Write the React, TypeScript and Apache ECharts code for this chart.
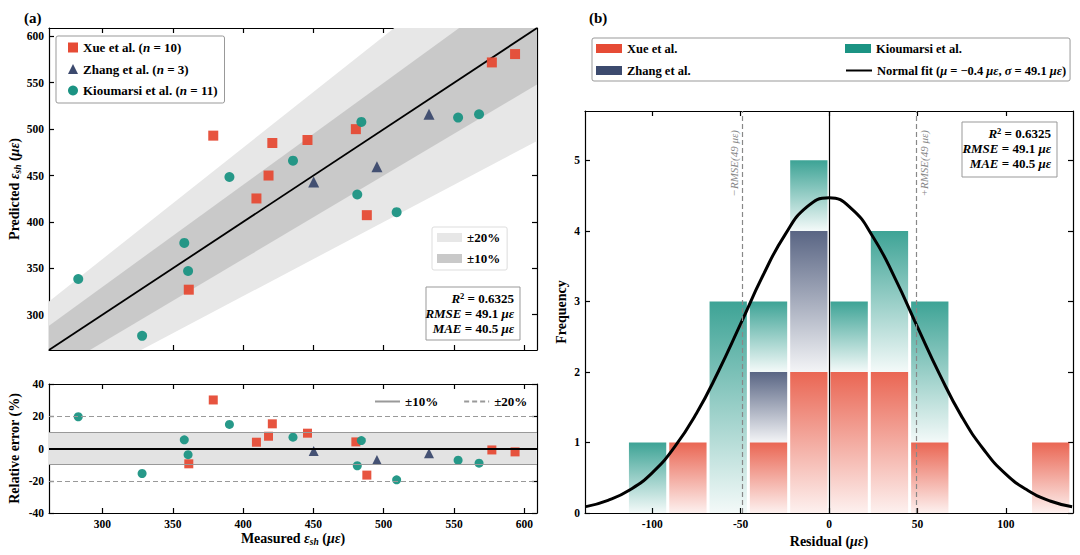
import React, { useEffect, useRef } from "react";
import * as echarts from "echarts";

// ---- panel (a): measured vs predicted shrinkage strain (µε) ----
const xueMeasured = [378.8, 420.8, 418.1, 409.5, 445.8, 480.2, 488.0, 361.4, 576.9, 593.4];
const xuePredicted = [493.0, 485.1, 450.0, 425.3, 488.3, 500.0, 407.3, 327.0, 571.9, 580.9];
const zhangMeasured = [450.2, 495.2, 532.2];
const zhangPredicted = [443.0, 459.5, 516.1];
const kioMeasured = [282.8, 328.2, 358.2, 360.9, 390.3, 435.5, 481.2, 484.1, 509.2, 552.9, 567.8];
const kioPredicted = [338.5, 277.3, 377.4, 347.1, 448.4, 466.0, 429.6, 507.8, 410.5, 512.5, 516.1];

// relative error (%) from the lower panel
const xueError = [30.1, 15.3, 7.6, 3.9, 9.5, 4.1, -16.5, -9.5, -0.9, -2.1];
const zhangError = [-1.6, -7.2, -3.0];
const kioError = [19.7, -15.5, 5.4, -3.8, 14.9, 7.0, -10.7, 4.9, -19.4, -7.3, -9.1];

const strainRange = [262, 609];
const strainTicks = [300, 350, 400, 450, 500, 550, 600];
const errorTicks = [-40, -20, 0, 20, 40];
const bandRatios = [0.2, 0.1];
const errorBands = [10, 20];

// ---- panel (b): residual histogram ----
const binEdges = [-114.0, -91.2, -68.4, -45.6, -22.8, 0.0, 22.8, 45.6, 68.4, 91.2, 114.0, 136.8];
const xueCounts = [0, 1, 0, 1, 2, 2, 2, 1, 0, 0, 1];
const zhangCounts = [0, 0, 0, 1, 2, 0, 0, 0, 0, 0, 0];
const kioCounts = [1, 0, 3, 1, 1, 1, 2, 2, 0, 0, 0];
const fitX = [-137.5, -125, -112.5, -100, -87.5, -75, -62.5, -50, -37.5, -25, -12.5, 0,
  12.5, 25, 37.5, 50, 62.5, 75, 87.5, 100, 112.5, 125, 137.5];
const fitY = [0.09, 0.18, 0.33, 0.57, 0.93, 1.41, 2.01, 2.68, 3.36, 3.94, 4.34, 4.47,
  4.32, 3.91, 3.32, 2.64, 1.97, 1.37, 0.9, 0.55, 0.32, 0.17, 0.09];
const residualRange = [-138, 138];
const residualTicks = [-100, -50, 0, 50, 100];
const freqTicks = [0, 1, 2, 3, 4, 5];
const freqMax = 5.7;
const rmse = 49.1;

const statR2 = "0.6325";
const statRmse = "49.1";
const statMae = "40.5";

const FONT = '"Liberation Serif", "Times New Roman", serif';
const RED = "#E64B35";
const NAVY = "#3C4A6E";
const TEAL = "#1B9383";

const XUE = "Xue et al. (n = 10)";
const ZHANG = "Zhang et al. (n = 3)";
const KIO = "Kioumarsi et al. (n = 11)";

const pairs = (xs: number[], ys: number[]) => xs.map((x, i) => [x, ys[i]]);

const stackSegments = (counts: number[], below: number[]) =>
  counts.flatMap((c, i) =>
    c > 0 ? [[binEdges[i], binEdges[i + 1], below[i], below[i] + c]] : []
  );

const bold = { fontFamily: FONT, fontWeight: "bold" as const, color: "#000" };

const axis = (
  gridIndex: number,
  position: string,
  range: number[],
  ticks: number[],
  labels: boolean,
  extra: any = {}
) => ({
  type: "value",
  gridIndex,
  position,
  min: range[0],
  max: range[1],
  axisLine: { show: true, onZero: false, lineStyle: { color: "#000", width: 1.2 } },
  axisTick: {
    show: true,
    inside: true,
    length: 5,
    customValues: ticks,
    lineStyle: { color: "#000", width: 1.2 },
  },
  axisLabel: { show: labels, customValues: ticks, margin: 5, fontSize: 11.5, ...bold },
  splitLine: { show: false },
  ...extra,
});

const nameRich = {
  b: { fontSize: 14, ...bold, lineHeight: 17, verticalAlign: "middle" },
  i: { fontSize: 14, ...bold, fontStyle: "italic", lineHeight: 17, verticalAlign: "middle" },
  s: { fontSize: 9.5, ...bold, fontStyle: "italic", lineHeight: 9, verticalAlign: "bottom" },
};

const renderBand = (ratio: number, color: string) => (params: any, api: any) => {
  const x0 = api.value(0);
  const x1 = api.value(1);
  const cs = params.coordSys;
  return {
    type: "polygon",
    shape: {
      points: [
        api.coord([x0, x0 * (1 - ratio)]),
        api.coord([x1, x1 * (1 - ratio)]),
        api.coord([x1, x1 * (1 + ratio)]),
        api.coord([x0, x0 * (1 + ratio)]),
      ],
    },
    style: { fill: color },
    clipPath: { type: "rect", shape: { x: cs.x, y: cs.y, width: cs.width, height: cs.height } },
  };
};

const renderBar = (top: string, bottom: string) => (_params: any, api: any) => {
  const a = api.coord([api.value(0), api.value(3)]);
  const b = api.coord([api.value(1), api.value(2)]);
  return {
    type: "rect",
    shape: { x: a[0] + 1.5, y: a[1], width: b[0] - a[0] - 3, height: b[1] - a[1] },
    style: {
      fill: {
        type: "linear",
        x: 0,
        y: 0,
        x2: 0,
        y2: 1,
        colorStops: [
          { offset: 0, color: top },
          { offset: 1, color: bottom },
        ],
      },
    },
  };
};

const statRich = {
  b: { fontSize: 13, ...bold, lineHeight: 15 },
  i: { fontSize: 13, ...bold, fontStyle: "italic", lineHeight: 15 },
  sup: { fontSize: 8.5, ...bold, lineHeight: 8, verticalAlign: "top" },
};

const statsBox = (x: number, y: number, w: number, h: number) => ({
  type: "group",
  children: [
    {
      type: "rect",
      shape: { x, y, width: w, height: h },
      style: { fill: "#fff", stroke: "#999", lineWidth: 1 },
    },
    {
      type: "text",
      x: x + w - 6,
      y: y + 4,
      style: {
        text: [
          `{i|R}{sup|2}{b| = ${statR2}}`,
          `{i|RMSE}{b| = ${statRmse} }{i|με}`,
          `{i|MAE}{b| = ${statMae} }{i|με}`,
        ].join("\n"),
        rich: statRich,
        align: "right",
        verticalAlign: "top",
      },
    },
  ],
});

const App: React.FC = () => {
  const chartRef = useRef<HTMLDivElement>(null);

  useEffect(() => {
    document.body.style.margin = "0";
    const dom = chartRef.current;
    if (!dom) return;
    const chart = echarts.init(dom, null, { renderer: "svg" });

    const zhangBase = xueCounts;
    const kioBase = xueCounts.map((c, i) => c + zhangCounts[i]);

    const option: any = {
      animation: false,
      backgroundColor: "#fff",
      title: [
        { text: "(a)", left: 19, top: 5, textStyle: { fontSize: 15, ...bold } },
        { text: "(b)", left: 584, top: 5, textStyle: { fontSize: 15, ...bold } },
      ],
      grid: [
        { left: 49, top: 28, width: 488, height: 322 },
        { left: 49, top: 384, width: 488, height: 129 },
        { left: 585, top: 111, width: 488, height: 402 },
      ],
      xAxis: [
        axis(0, "bottom", strainRange, strainTicks, false),
        axis(0, "top", strainRange, strainTicks, false),
        axis(1, "bottom", strainRange, strainTicks, true, {
          name: "{b|Measured }{i|ε}{s|sh}{b| (}{i|με}{b|)}",
          nameLocation: "middle",
          nameGap: 17,
          nameTextStyle: { rich: nameRich },
        }),
        axis(1, "top", strainRange, strainTicks, false),
        axis(2, "bottom", residualRange, residualTicks, true, {
          name: "{b|Residual (}{i|με}{b|)}",
          nameLocation: "middle",
          nameGap: 16,
          nameTextStyle: { rich: nameRich },
        }),
        axis(2, "top", residualRange, residualTicks, false),
      ],
      yAxis: [
        axis(0, "left", strainRange, strainTicks, true, {
          name: "{b|Predicted }{i|ε}{s|sh}{b| (}{i|με}{b|)}",
          nameLocation: "middle",
          nameGap: 26,
          nameTextStyle: { rich: nameRich },
        }),
        axis(0, "right", strainRange, strainTicks, false),
        axis(1, "left", [-40, 40], errorTicks, true, {
          name: "{b|Relative error (%)}",
          nameLocation: "middle",
          nameGap: 26,
          nameTextStyle: { rich: nameRich },
        }),
        axis(1, "right", [-40, 40], errorTicks, false),
        axis(2, "left", [0, freqMax], freqTicks, true, {
          name: "{b|Frequency}",
          nameLocation: "middle",
          nameGap: 15,
          nameTextStyle: { rich: nameRich },
        }),
        axis(2, "right", [0, freqMax], freqTicks, false),
      ],
      legend: [
        {
          data: [XUE, ZHANG, KIO],
          orient: "vertical",
          left: 56,
          top: 36,
          padding: [5, 7, 6, 12],
          itemGap: 8.5,
          itemWidth: 10,
          itemHeight: 10,
          itemTextGap: 17,
          borderColor: "#999",
          borderWidth: 1,
          borderRadius: 2,
          backgroundColor: "#fff",
          selectedMode: false,
          itemStyle: { opacity: 1 },
          formatter: (name: string) => {
            const m = name.match(/^(.*)\(n = (\d+)\)$/);
            return m ? `${m[1]}({i|n} = ${m[2]})` : name;
          },
          textStyle: {
            fontSize: 13,
            lineHeight: 10,
            ...bold,
            rich: { i: { fontSize: 13, lineHeight: 10, ...bold, fontStyle: "italic" } },
          },
        },
        {
          data: ["±20%", "±10%"],
          orient: "vertical",
          left: 432,
          top: 227,
          padding: [4, 7, 5, 5],
          itemGap: 8,
          itemWidth: 25,
          itemHeight: 9,
          itemTextGap: 11,
          icon: "rect",
          borderColor: "#ddd",
          borderWidth: 1,
          borderRadius: 2,
          backgroundColor: "#fff",
          selectedMode: false,
          textStyle: { fontSize: 13, lineHeight: 9, ...bold },
        },
        {
          data: [
            { name: "err10", itemStyle: { opacity: 0 } },
            { name: "err20", itemStyle: { opacity: 0 } },
          ],
          orient: "horizontal",
          left: 374,
          top: 395,
          padding: 0,
          itemGap: 25,
          itemWidth: 25,
          itemHeight: 10,
          itemTextGap: 11,
          selectedMode: false,
          formatter: (name: string) => (name === "err10" ? "±10%" : "±20%"),
          textStyle: { fontSize: 13, ...bold },
        },
        {
          data: [
            { name: "Xue et al.", icon: "rect", textStyle: { width: 209 } },
            { name: "Kioumarsi et al.", icon: "rect" },
            { name: "Zhang et al.", icon: "rect", textStyle: { width: 209 } },
            { name: "Normal fit", itemStyle: { opacity: 0 } },
          ],
          orient: "horizontal",
          left: 592,
          top: 38,
          width: 480,
          padding: [4, 4, 4, 4],
          itemGap: 9,
          itemWidth: 26,
          itemHeight: 9,
          itemTextGap: 9,
          borderColor: "#999",
          borderWidth: 1,
          borderRadius: 2,
          selectedMode: false,
          formatter: (name: string) =>
            name === "Normal fit"
              ? "Normal fit ({i|μ} = −0.4 {i|με}, {i|σ} = 49.1 {i|με})"
              : name,
          textStyle: {
            fontSize: 12.5,
            lineHeight: 9,
            ...bold,
            rich: { i: { fontSize: 12.5, lineHeight: 9, ...bold, fontStyle: "italic" } },
          },
        },
      ],
      series: [
        // panel (a) upper
        {
          name: "±20%",
          type: "custom",
          xAxisIndex: 0,
          yAxisIndex: 0,
          itemStyle: { color: "#e7e7e7" },
          renderItem: renderBand(bandRatios[0], "#e7e7e7"),
          data: [strainRange],
          encode: { x: [0, 1], y: [0, 1] },
          silent: true,
          z: 1,
        },
        {
          name: "±10%",
          type: "custom",
          xAxisIndex: 0,
          yAxisIndex: 0,
          itemStyle: { color: "#c9c9c9" },
          renderItem: renderBand(bandRatios[1], "#c9c9c9"),
          data: [strainRange],
          encode: { x: [0, 1], y: [0, 1] },
          silent: true,
          z: 1,
        },
        {
          name: "1:1",
          type: "line",
          xAxisIndex: 0,
          yAxisIndex: 0,
          data: [
            [strainRange[0], strainRange[0]],
            [strainRange[1], strainRange[1]],
          ],
          symbol: "none",
          lineStyle: { color: "#000", width: 1.8 },
          silent: true,
          z: 2,
        },
        {
          name: XUE,
          type: "scatter",
          xAxisIndex: 0,
          yAxisIndex: 0,
          symbol: "rect",
          symbolSize: 10,
          itemStyle: { color: RED, opacity: 0.95 },
          data: pairs(xueMeasured, xuePredicted),
          z: 3,
        },
        {
          name: ZHANG,
          type: "scatter",
          xAxisIndex: 0,
          yAxisIndex: 0,
          symbol: "triangle",
          symbolSize: 11,
          itemStyle: { color: NAVY, opacity: 0.95 },
          data: pairs(zhangMeasured, zhangPredicted),
          z: 3,
        },
        {
          name: KIO,
          type: "scatter",
          xAxisIndex: 0,
          yAxisIndex: 0,
          symbol: "circle",
          symbolSize: 10,
          itemStyle: { color: TEAL, opacity: 0.95 },
          data: pairs(kioMeasured, kioPredicted),
          z: 3,
        },
        // panel (a) lower
        {
          name: "err10",
          type: "line",
          xAxisIndex: 2,
          yAxisIndex: 2,
          data: [],
          symbol: "none",
          itemStyle: { color: "#999" },
          lineStyle: { color: "#999", width: 1.2 },
          markArea: {
            silent: true,
            itemStyle: { color: "#e3e3e3" },
            data: [[{ yAxis: -errorBands[0] }, { yAxis: errorBands[0] }]],
          },
          markLine: {
            silent: true,
            symbol: "none",
            label: { show: false },
            lineStyle: { color: "#999", width: 1.2, type: "solid" },
            data: [
              { yAxis: -errorBands[0] },
              { yAxis: errorBands[0] },
              { yAxis: 0, lineStyle: { color: "#000", width: 2, type: "solid" } },
            ],
          },
          z: 1,
        },
        {
          name: "err20",
          type: "line",
          xAxisIndex: 2,
          yAxisIndex: 2,
          data: [],
          symbol: "none",
          itemStyle: { color: "#999" },
          lineStyle: { color: "#999", width: 1.2, type: [5, 3] },
          markLine: {
            silent: true,
            symbol: "none",
            label: { show: false },
            lineStyle: { color: "#999", width: 1.2, type: [5, 3] },
            data: [{ yAxis: -errorBands[1] }, { yAxis: errorBands[1] }],
          },
          z: 1,
        },
        {
          name: XUE,
          type: "scatter",
          xAxisIndex: 2,
          yAxisIndex: 2,
          symbol: "rect",
          symbolSize: 9,
          itemStyle: { color: RED, opacity: 0.95 },
          data: pairs(xueMeasured, xueError),
          z: 3,
        },
        {
          name: ZHANG,
          type: "scatter",
          xAxisIndex: 2,
          yAxisIndex: 2,
          symbol: "triangle",
          symbolSize: 10,
          itemStyle: { color: NAVY, opacity: 0.95 },
          data: pairs(zhangMeasured, zhangError),
          z: 3,
        },
        {
          name: KIO,
          type: "scatter",
          xAxisIndex: 2,
          yAxisIndex: 2,
          symbol: "circle",
          symbolSize: 9,
          itemStyle: { color: TEAL, opacity: 0.95 },
          data: pairs(kioMeasured, kioError),
          z: 3,
        },
        // panel (b)
        {
          name: "Xue et al.",
          type: "custom",
          xAxisIndex: 4,
          yAxisIndex: 4,
          itemStyle: { color: RED },
          renderItem: renderBar("rgba(230,75,53,0.85)", "rgba(230,75,53,0.08)"),
          encode: { x: [0, 1], y: [2, 3] },
          data: stackSegments(xueCounts, xueCounts.map(() => 0)),
          silent: true,
          z: 1,
        },
        {
          name: "Zhang et al.",
          type: "custom",
          xAxisIndex: 4,
          yAxisIndex: 4,
          itemStyle: { color: NAVY },
          renderItem: renderBar("rgba(60,74,110,0.85)", "rgba(60,74,110,0.06)"),
          encode: { x: [0, 1], y: [2, 3] },
          data: stackSegments(zhangCounts, zhangBase),
          silent: true,
          z: 1,
        },
        {
          name: "Kioumarsi et al.",
          type: "custom",
          xAxisIndex: 4,
          yAxisIndex: 4,
          itemStyle: { color: TEAL },
          renderItem: renderBar("rgba(27,147,131,0.85)", "rgba(27,147,131,0.05)"),
          encode: { x: [0, 1], y: [2, 3] },
          data: stackSegments(kioCounts, kioBase),
          silent: true,
          z: 1,
        },
        {
          name: "Normal fit",
          type: "line",
          xAxisIndex: 4,
          yAxisIndex: 4,
          data: pairs(fitX, fitY),
          smooth: true,
          symbol: "none",
          itemStyle: { color: "#000" },
          lineStyle: { color: "#000", width: 3 },
          markLine: {
            silent: true,
            symbol: "none",
            lineStyle: { color: "#888", width: 1.2, type: [5, 3] },
            label: {
              show: true,
              color: "#888",
              fontFamily: FONT,
              fontStyle: "italic",
              fontSize: 11,
              distance: [19, 3],
            },
            data: [
              {
                xAxis: 0,
                lineStyle: { color: "#000", width: 1.2, type: "solid" },
                label: { show: false },
              },
              {
                xAxis: -rmse,
                label: { position: "insideEndTop", formatter: "−RMSE(49 με)" },
              },
              {
                xAxis: rmse,
                label: { position: "insideEndBottom", formatter: "+RMSE(49 με)" },
              },
            ],
          },
          z: 3,
        },
      ],
      graphic: [statsBox(426, 287, 94, 53), statsBox(962, 122, 95, 55)],
    };

    chart.setOption(option);
    return () => {
      chart.dispose();
    };
  }, []);

  return <div ref={chartRef} style={{ width: "1080px", height: "555px" }} />;
};

export default App;
